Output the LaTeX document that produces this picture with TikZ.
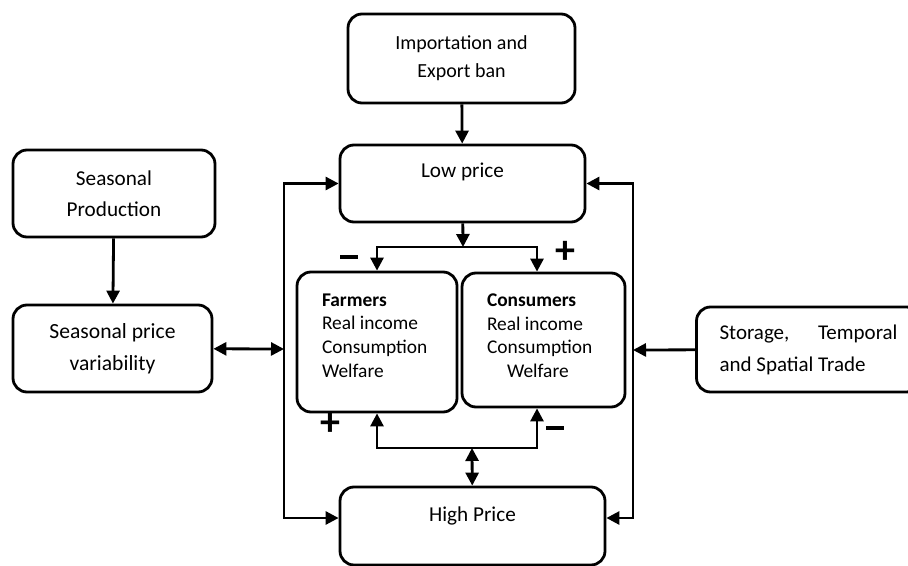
\documentclass[tikz,border=0pt]{standalone}
\usepackage{fontspec}
\setmainfont{Carlito}
\usepackage{tikz}
\usetikzlibrary{arrows.meta,positioning,calc}

\begin{document}
\begin{tikzpicture}[
  x=0.5pt, y=-0.5pt,
  font=\fontsize{10.6}{15.5}\selectfont,
  box/.style={draw, line width=1.4pt, rounded corners=7pt, align=center, inner sep=0pt},
  group/.style={box, align=flush left, inner xsep=12.5pt, font=\fontsize{9.7}{11.85}\selectfont},
  sign/.style={font=\fontsize{20}{20}\selectfont\bfseries, inner sep=0pt},
  every path/.style={line width=1.4pt},
  ->, >={Triangle[length=6.5pt,width=6.5pt]}
]
  \useasboundingbox (0,0) rectangle (908,566);

  \node[box, minimum width=113.5pt, minimum height=44.5pt, font=\fontsize{10}{14}\selectfont] (imp) at (461.5,58.5) {Importation and\\Export ban};
  \node[box, minimum width=122.5pt, minimum height=38.5pt, text height=7.5pt, text depth=13.5pt] (low) at (462.5,183.5) {Low price};
  \node[box, minimum width=132.5pt, minimum height=39pt, text height=7.5pt, text depth=12.1pt] (high) at (472.5,526) {High Price};

  \node[group, minimum width=80pt, minimum height=70pt, text width=55pt, text depth=42pt] (farm) at (377,342) {\textbf{Farmers}\\Real income\\Consumption\\Welfare};
  \node[group, minimum width=81.5pt, minimum height=67pt, text width=56.5pt, text depth=40pt] (cons) at (543.5,340) {\textbf{Consumers}\\Real income\\Consumption\\\hspace*{10pt}Welfare};

  \node[box, minimum width=101pt, minimum height=43.5pt] (sprod) at (114,193.5) {Seasonal\\Production};
  \node[box, minimum width=99.5pt, minimum height=43.5pt, font=\fontsize{10.8}{16}\selectfont] (svar) at (112.5,348.5) {Seasonal price\\variability};
  \node[box, align=flush left, inner xsep=11.5pt, text width=89pt, minimum height=42.5pt, font=\fontsize{10.5}{16}\selectfont] (stor) at (808.5,349.5) {Storage,\hfill Temporal\\and Spatial Trade};

  \coordinate (topsplit) at (463,247);
  \coordinate (botsplit) at (472,448);
  \coordinate (leftbus) at (284,349);
  \coordinate (rightbus) at (633,350);

  \draw[->] (imp) -- (low);
  \draw[->] (sprod) -- (svar);

  \draw[->] (low) -- (topsplit);
  \draw[->] (topsplit) -| (farm.north);
  \draw[->] (topsplit) -| ([xshift=-3.25pt]cons.north);

  \draw[->] (botsplit) -| (farm.south);
  \draw[->] (botsplit) -| ([xshift=-3.25pt]cons.south);
  \draw[<->] (botsplit) -- (high);

  \draw[<->] (svar) -- (leftbus);
  \draw[->] (leftbus) |- (low);
  \draw[->] (leftbus) |- ([yshift=4pt]high.west);

  \draw[->] (stor) -- (rightbus);
  \draw[->] (rightbus) |- (low);
  \draw[->] (rightbus) |- ([yshift=4pt]high.east);

  \node[sign] (signlt) at (349,257) {\rule{9pt}{2pt}};
  \node[sign] (signrt) at (565,252) {+};
  \node[sign] (signlb) at (330,424) {+};
  \node[sign] (signrb) at (555,428) {\rule{9pt}{2pt}};
\end{tikzpicture}
\end{document}
